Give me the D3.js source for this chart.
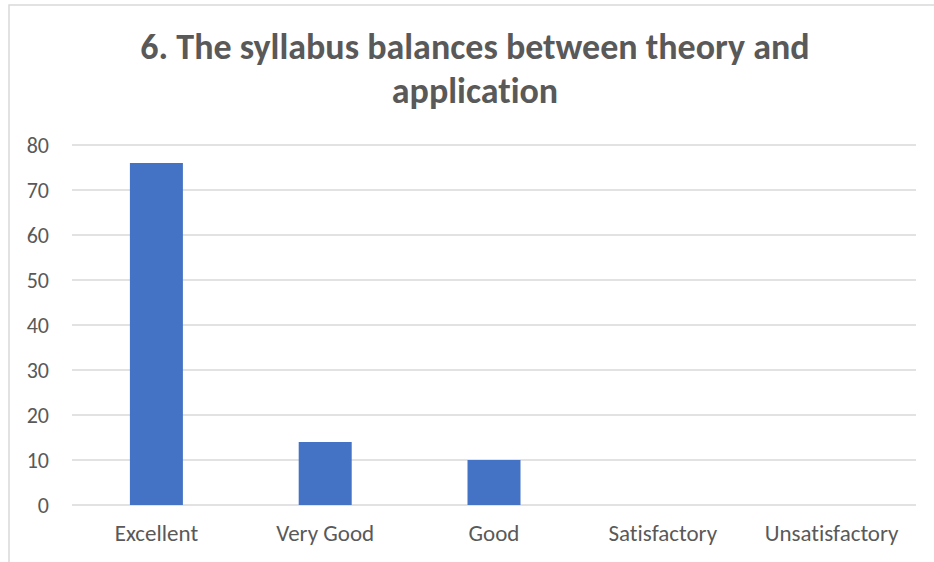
<!DOCTYPE html>
<html>
<head>
<meta charset="utf-8">
<script src="https://cdn.jsdelivr.net/npm/d3@7"></script>
<style>
  body { margin: 0; background: #fff; }
  text { font-family: Calibri, Carlito, Lato, sans-serif; fill: #595959; font-variant-ligatures: none; }
</style>
</head>
<body>
<div id="chart"></div>
<script>
// Data
let categories = ["Excellent", "Very Good", "Good", "Satisfactory", "Unsatisfactory"];
let counts = [76, 14, 10, 0, 0];
let yTicks = [0, 10, 20, 30, 40, 50, 60, 70, 80];
let titleLines = ["6. The syllabus balances between theory and", "application"];

let width = 934,
    height = 562,
    margin = {top: 145, right: 18, bottom: 57, left: 72};

let fontStack = "Calibri, Carlito, Lato, sans-serif";

let svg = d3.select("#chart")
      .append("svg")
      .attr("width", width)
      .attr("height", height);

// chart area border (left and top edges visible)
svg.append("rect")
    .attr("x", 9)
    .attr("y", 5)
    .attr("width", width)
    .attr("height", height)
    .style("fill", "none")
    .style("stroke", "#d9d9d9")
    .style("stroke-width", 1.5);

let x = d3.scaleBand()
      .domain(categories)
      .range([margin.left, width - margin.right])
      .paddingInner(0.686)
      .paddingOuter(0.343);

let y = d3.scaleLinear()
      .domain([0, 80])
      .range([height - margin.bottom, margin.top]);

// gridlines
svg.append("g")
    .selectAll("line")
    .data(yTicks)
    .enter().append("line")
    .attr("x1", margin.left)
    .attr("x2", width - margin.right)
    .attr("y1", function(d) { return y(d); })
    .attr("y2", function(d) { return y(d); })
    .style("stroke", "#d9d9d9")
    .style("stroke-width", 1.3);

// y axis labels
let yAxis = d3.axisLeft(y).tickValues(yTicks).tickSize(0).tickPadding(0);
let yg = svg.append("g")
      .attr("transform", "translate(49,0)")
      .call(yAxis);
yg.select(".domain").remove();
yg.selectAll("text")
    .style("font-size", "22px")
    .style("fill", "#595959")
    .style("font-family", fontStack);

// bars
svg.append("g")
    .selectAll("rect")
    .data(counts)
    .enter().append("rect")
    .attr("x", function(d, i) { return x(categories[i]); })
    .attr("width", x.bandwidth())
    .attr("y", function(d) { return y(d); })
    .attr("height", function(d) { return y(0) - y(d); })
    .style("fill", "#4472c4");

// x axis labels
let xAxis = d3.axisBottom(x).tickSize(0).tickPadding(0);
let xg = svg.append("g")
      .attr("transform", "translate(0," + (height - margin.bottom) + ")")
      .call(xAxis);
xg.select(".domain").remove();
xg.selectAll("text")
    .attr("y", 36)
    .attr("dy", 0)
    .style("font-size", "23px")
    .style("fill", "#595959")
    .style("font-family", fontStack);

// title
svg.append("g")
    .selectAll("text")
    .data(titleLines)
    .enter().append("text")
    .attr("x", 475)
    .attr("y", function(d, i) { return 59 + i * 44; })
    .attr("text-anchor", "middle")
    .style("font-size", "36px")
    .style("font-weight", "bold")
    .text(function(d) { return d; });
</script>
</body>
</html>
